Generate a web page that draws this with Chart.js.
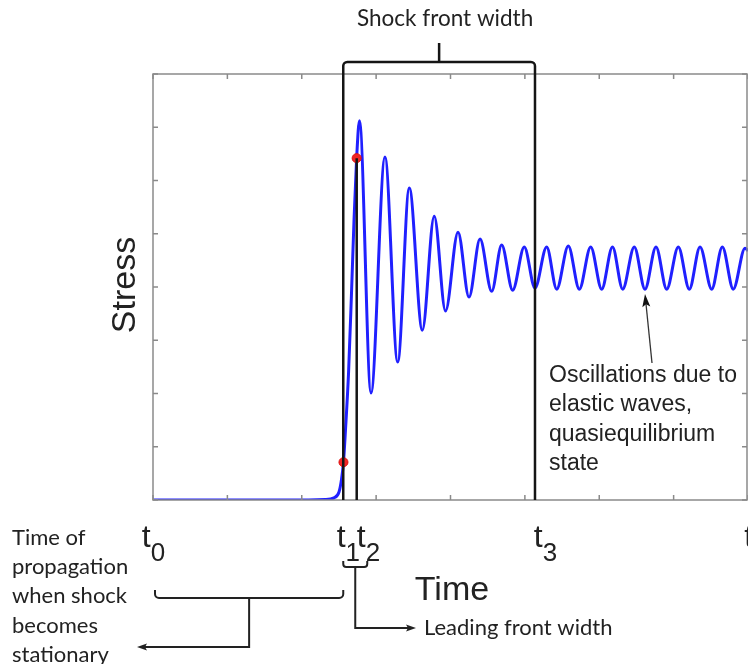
<!DOCTYPE html>
<html>
<head>
<meta charset="utf-8">
<script src="https://cdn.jsdelivr.net/npm/chart.js@4"></script>
<style>
  html, body { margin: 0; padding: 0; background: #fff; overflow: hidden; }
  canvas { display: block; }
</style>
</head>
<body>
<canvas id="shock" width="748" height="664"></canvas>
<script>
// Stress curve (time units = x tick spacing, stress units = y tick spacing)
const timeVals = [0, 1.842, 2.313, 2.434, 2.501, 2.534, 2.561, 2.588, 2.629, 2.669, 2.703, 2.738, 2.776,
  2.931, 3.119, 3.290, 3.446, 3.621, 3.781, 3.933, 4.101, 4.249, 4.397, 4.554, 4.688, 4.836, 4.992,
  5.136, 5.293, 5.428, 5.584, 5.732, 5.885, 6.033, 6.178, 6.315, 6.471, 6.615, 6.763, 6.907, 7.063,
  7.211, 7.355, 7.512, 7.655, 7.802, 7.960, 8.0];
const stressVals = [0, 0, 0.01, 0.04, 0.15, 0.38, 0.71, 1.31, 2.38, 3.89, 5.26, 6.42, 7.12,
  2.01, 6.44, 2.59, 5.86, 3.19, 5.33, 3.55, 5.03, 3.81, 4.90, 3.92, 4.79, 3.94, 4.75,
  3.98, 4.75, 3.96, 4.77, 3.96, 4.75, 3.96, 4.75, 3.96, 4.75, 3.96, 4.75, 3.96, 4.75,
  3.96, 4.75, 3.96, 4.75, 3.96, 4.73, 4.68];

// red marker points
const markTime = [2.561, 2.738];
const markStress = [0.71, 6.42];

// characteristic times
const tTimes = { t0: 0, t1: 2.558, t2: 2.739, t3: 5.136, tEnd: 8 };
const tLabelSubs = ['0', '1', '2', '3', ''];
const tLabelAt = [-0.15, 2.47, 2.74, 5.12, 7.95];

const calibri = "Lato, 'Open Sans', sans-serif";
const arial = "'Liberation Sans', Arial, sans-serif";

function arrowHead(ctx, x, y, ang, len, wid) {
  ctx.save();
  ctx.translate(x, y);
  ctx.rotate(ang);
  ctx.beginPath();
  ctx.moveTo(0, 0);
  ctx.lineTo(-len, -wid / 2);
  ctx.lineTo(-len * 0.8, 0);
  ctx.lineTo(-len, wid / 2);
  ctx.closePath();
  ctx.fill();
  ctx.restore();
}

const annotations = {
  id: 'annotations',
  afterDraw(chart) {
    const { ctx, chartArea: a, scales: { x, y } } = chart;
    ctx.save();

    // frame
    ctx.strokeStyle = '#8a8a8a';
    ctx.lineWidth = 1.5;
    ctx.strokeRect(a.left, a.top, a.right - a.left - 1, a.bottom - a.top);

    // inward ticks
    ctx.beginPath();
    x.ticks.forEach(t => {
      const px = x.getPixelForValue(t.value);
      ctx.moveTo(px, a.bottom); ctx.lineTo(px, a.bottom - 5);
      ctx.moveTo(px, a.top); ctx.lineTo(px, a.top + 5);
    });
    y.ticks.forEach(t => {
      const py = y.getPixelForValue(t.value);
      ctx.moveTo(a.left, py); ctx.lineTo(a.left + 5, py);
      ctx.moveTo(a.right - 1, py); ctx.lineTo(a.right - 6, py);
    });
    ctx.stroke();

    // shock front bracket with t1, t3 lines
    const x1 = x.getPixelForValue(tTimes.t1);
    const x2 = x.getPixelForValue(tTimes.t2);
    const x3 = x.getPixelForValue(tTimes.t3);
    const top = a.top - 12;
    const r = 4;
    ctx.strokeStyle = '#151515';
    ctx.lineWidth = 2.5;
    ctx.beginPath();
    ctx.moveTo(x1, a.bottom);
    ctx.lineTo(x1, top + r);
    ctx.arcTo(x1, top, x1 + r, top, r);
    ctx.lineTo(x3 - r, top);
    ctx.arcTo(x3, top, x3, top + r, r);
    ctx.lineTo(x3, a.bottom);
    const mid = (x1 + x3) / 2;
    ctx.moveTo(mid, top);
    ctx.lineTo(mid, top - 19);
    // t2 line from upper marker down
    ctx.moveTo(x2, y.getPixelForValue(markStress[1]));
    ctx.lineTo(x2, a.bottom);
    ctx.stroke();

    ctx.fillStyle = '#222';
    ctx.textBaseline = 'alphabetic';
    ctx.font = '22.5px ' + calibri;
    ctx.textAlign = 'center';
    ctx.fillText('Shock front width', mid + 6, 26);

    // t labels
    ctx.textAlign = 'left';
    tLabelAt.forEach((v, i) => {
      const px = x.getPixelForValue(v);
      ctx.font = '32px ' + arial;
      ctx.fillText('t', px, 547);
      const w = ctx.measureText('t').width;
      ctx.font = '26px ' + arial;
      ctx.fillText(tLabelSubs[i], px + w, 561);
    });

    // axis titles
    ctx.font = '34px ' + arial;
    ctx.textAlign = 'center';
    ctx.fillText('Time', 452, 600);
    ctx.save();
    ctx.translate(135, 285);
    ctx.rotate(-Math.PI / 2);
    ctx.fillText('Stress', 0, 0);
    ctx.restore();

    // bottom bracket t0..t1
    const x0 = x.getPixelForValue(tTimes.t0) + 2;
    ctx.strokeStyle = '#222';
    ctx.fillStyle = '#222';
    ctx.lineWidth = 2;
    const by = 598;
    ctx.beginPath();
    ctx.moveTo(x0, by - 8);
    ctx.lineTo(x0, by - r);
    ctx.arcTo(x0, by, x0 + r, by, r);
    ctx.lineTo(x1 - r, by);
    ctx.arcTo(x1, by, x1, by - r, r);
    ctx.lineTo(x1, by - 8);
    const bm = (x0 + x1) / 2;
    ctx.moveTo(bm, by);
    ctx.lineTo(bm, 647);
    ctx.lineTo(145, 647);
    ctx.stroke();
    arrowHead(ctx, 137, 647, Math.PI, 10, 7);

    // small brace t1..t2
    const sx1 = x1, sx2 = x1 + 24, sy = 567;
    ctx.beginPath();
    ctx.moveTo(sx1, sy - 6);
    ctx.lineTo(sx1, sy - 3);
    ctx.arcTo(sx1, sy, sx1 + 3, sy, 3);
    ctx.lineTo(sx2 - 3, sy);
    ctx.arcTo(sx2, sy, sx2, sy - 3, 3);
    ctx.lineTo(sx2, sy - 6);
    const sm = (sx1 + sx2) / 2;
    ctx.moveTo(sm, sy);
    ctx.lineTo(sm, 628);
    ctx.lineTo(408, 628);
    ctx.stroke();
    arrowHead(ctx, 416, 628, 0, 10, 7);

    ctx.textAlign = 'left';
    ctx.font = '22px ' + calibri;
    ctx.fillText('Leading front width', 424, 635);

    const leftLines = ['Time of', 'propagation', 'when shock', 'becomes', 'stationary'];
    ctx.font = '22px ' + calibri;
    leftLines.forEach((s, i) => ctx.fillText(s, 12, 545 + i * 29.2));

    // oscillation note and arrow
    ctx.strokeStyle = '#333';
    ctx.lineWidth = 1.3;
    ctx.beginPath();
    ctx.moveTo(652, 363);
    ctx.lineTo(646, 304);
    ctx.stroke();
    ctx.fillStyle = '#111';
    arrowHead(ctx, 645, 294, Math.atan2(294 - 363, 645 - 652), 13, 8);

    ctx.fillStyle = '#222';
    ctx.font = '23px ' + arial;
    ['Oscillations due to', 'elastic waves,', 'quasiequilibrium', 'state']
      .forEach((s, i) => ctx.fillText(s, 549, 382 + i * 29.4));

    ctx.restore();
  }
};

new Chart(document.getElementById('shock'), {
  type: 'scatter',
  data: {
    datasets: [{
      label: 'Stress',
      data: timeVals.map((t, i) => ({ x: t, y: stressVals[i] })),
      showLine: true,
      borderColor: '#2020ff',
      borderWidth: 3,
      pointRadius: 0,
      cubicInterpolationMode: 'monotone',
      order: 2
    }, {
      label: 'Markers',
      data: markTime.map((t, i) => ({ x: t, y: markStress[i] })),
      showLine: false,
      pointRadius: 4.5,
      pointBackgroundColor: '#f02525',
      pointBorderColor: '#e01010',
      pointBorderWidth: 1,
      order: 1
    }]
  },
  options: {
    responsive: false,
    animation: false,
    layout: { autoPadding: false, padding: { left: 153, top: 74, right: 0, bottom: 164 } },
    plugins: { legend: { display: false }, tooltip: { enabled: false } },
    scales: {
      x: { type: 'linear', min: 0, max: 8, display: false, ticks: { stepSize: 1 } },
      y: { type: 'linear', min: 0, max: 8, display: false, ticks: { stepSize: 1 } }
    }
  },
  plugins: [annotations]
});
</script>
</body>
</html>
